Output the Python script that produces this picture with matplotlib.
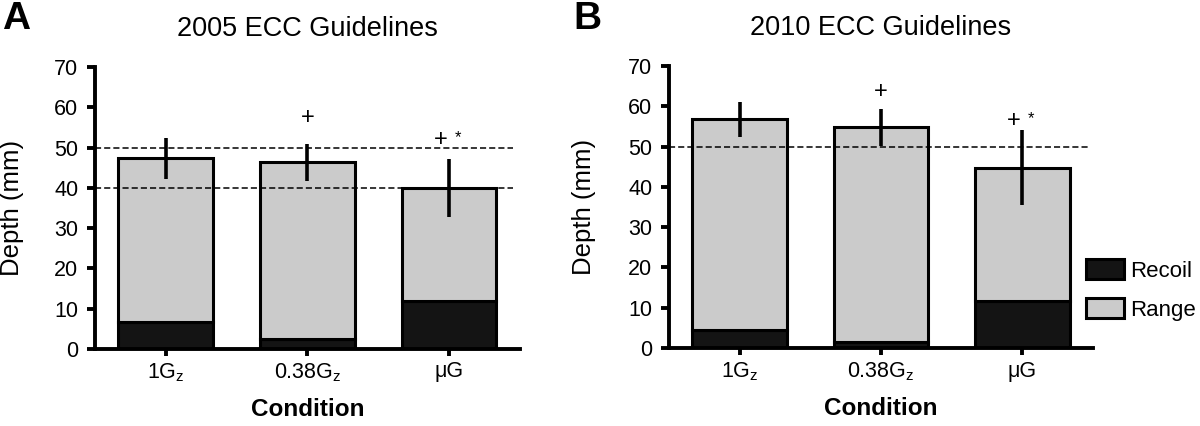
import matplotlib
matplotlib.use("Agg")
import matplotlib.pyplot as plt
import numpy as np
from matplotlib.patches import Patch

plt.rcParams['font.family'] = ['Liberation Sans', 'DejaVu Sans']
plt.rcParams['mathtext.fontset'] = 'custom'
plt.rcParams['mathtext.rm'] = 'Liberation Sans'
plt.rcParams['mathtext.it'] = 'Liberation Sans'

# data (mm)
conditions = [r'1G$_\mathregular{z}$', r'0.38G$_\mathregular{z}$', 'μG']
depth_2005 = [47.3, 46.3, 40.0]
recoil_2005 = [6.8, 2.5, 11.8]
err_2005 = [5.1, 4.6, 7.2]
depth_2010 = [56.8, 54.8, 44.7]
recoil_2010 = [4.4, 1.5, 11.7]
err_2010 = [4.3, 4.55, 9.3]
guides_2005 = [50, 40]
guides_2010 = [50]
# significance marks: (bar index, y, has star)
marks_2005 = [(1, 57.3, False), (2, 51.9, True)]
marks_2010 = [(1, 63.5, False), (2, 56.3, True)]

RECOIL = '#141414'
RANGE = '#cbcbcb'
LW = 2.2
SPINE = 2.8

fig = plt.figure(figsize=(12, 4.26), dpi=100)
axA = fig.add_axes([0.0792, 0.1808, 0.354, 0.662])
axB = fig.add_axes([0.5575, 0.183, 0.3533, 0.662])


def draw_panel(ax, depth, recoil, err, guides, guide_end, marks, title):
    x = np.arange(len(conditions))
    rng = np.array(depth) - np.array(recoil)
    ax.bar(x, recoil, width=0.67, color=RECOIL, edgecolor='black', linewidth=LW, zorder=2)
    ax.bar(x, rng, bottom=recoil, width=0.67, color=RANGE, edgecolor='black', linewidth=LW, zorder=2)
    ax.errorbar(x, depth, yerr=err, fmt='none', ecolor='black', elinewidth=2.6, capsize=0, zorder=4)
    for g in guides:
        ax.axhline(g, xmin=0, xmax=guide_end, color='black', lw=1.1, dashes=(4, 2), zorder=3)
    for i, y, star in marks:
        if star:
            ax.text(i - 0.06, y, '+', ha='center', va='center', fontsize=17, zorder=5)
            ax.text(i + 0.06, y + 0.6, '*', ha='center', va='center', fontsize=12, zorder=5)
        else:
            ax.text(i, y, '+', ha='center', va='center', fontsize=17, zorder=5)

    ax.set_xlim(-0.5, 2.5)
    ax.set_ylim(0, 70)
    ax.set_yticks(range(0, 71, 10))
    ax.set_xticks(x)
    ax.set_xticklabels(conditions)
    for s in ['top', 'right']:
        ax.spines[s].set_visible(False)
    for s in ['left', 'bottom']:
        ax.spines[s].set_linewidth(SPINE)
    ax.tick_params(axis='y', direction='out', length=6, width=SPINE, labelsize=15.5, pad=6)
    ax.tick_params(axis='x', direction='out', length=5, width=SPINE, labelsize=15.5, pad=4)
    ax.set_ylabel('Depth (mm)', fontsize=18.5)
    ax.set_xlabel('Condition', fontsize=17.5, fontweight='bold')
    ax.xaxis.set_label_coords(0.5, -0.175)
    ax.set_title(title, fontsize=19.5, pad=22)


draw_panel(axA, depth_2005, recoil_2005, err_2005, guides_2005, 0.984, marks_2005, '2005 ECC Guidelines')
draw_panel(axB, depth_2010, recoil_2010, err_2010, guides_2010, 0.993, marks_2010, '2010 ECC Guidelines')
axA.yaxis.set_label_coords(-0.168, 0.5)
axB.yaxis.set_label_coords(-0.172, 0.5)

fig.text(0.002, 0.955, 'A', fontsize=28, fontweight='bold', va='center', ha='left')
fig.text(0.478, 0.955, 'B', fontsize=28, fontweight='bold', va='center', ha='left')

handles = [Patch(facecolor=RECOIL, edgecolor='black', linewidth=LW, label='Recoil'),
           Patch(facecolor=RANGE, edgecolor='black', linewidth=LW, label='Range')]
fig.legend(handles=handles, loc='upper left', bbox_to_anchor=(0.905, 0.392), frameon=False,
           fontsize=16, handlelength=1.7, handleheight=1.0, handletextpad=0.3,
           labelspacing=0.75, borderpad=0, borderaxespad=0)

fig.savefig('out.png', dpi=100)
